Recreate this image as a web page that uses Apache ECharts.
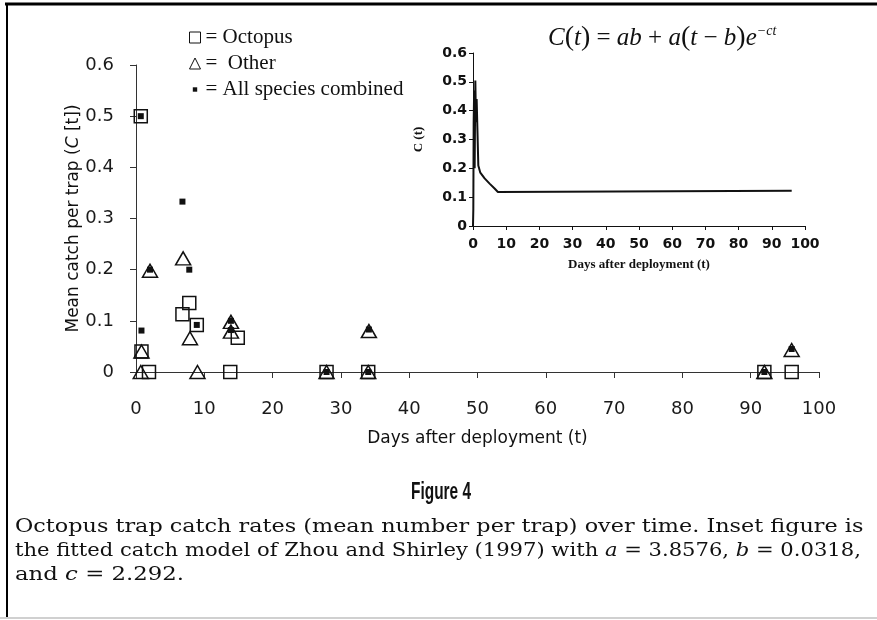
<!DOCTYPE html>
<html>
<head>
<meta charset="utf-8">
<title>Figure 4</title>
<script src="https://cdn.jsdelivr.net/npm/echarts@6/dist/echarts.min.js"></script>
<style>
  html, body { margin: 0; padding: 0; background: #fff; }
  #chart { width: 877px; height: 620px; }
</style>
</head>
<body>
<div id="chart"></div>
<script>
// [days after deployment, mean catch per trap]
var octopus = [[0.7, 0.5], [0.8, 0.04], [1.9, 0], [6.8, 0.113], [7.8, 0.135], [8.9, 0.092],
  [13.8, 0], [14.9, 0.067], [27.9, 0], [34, 0], [92, 0], [96, 0]];
var other = [[0.8, 0.04], [0.7, 0], [2.05, 0.198], [6.9, 0.222], [7.9, 0.066], [9.0, 0],
  [13.9, 0.098], [13.9, 0.079], [27.9, 0], [34, 0], [34.1, 0.08], [92, 0], [96, 0.043]];
var allSpecies = [[0.7, 0.5], [0.8, 0.081], [2.05, 0.2], [6.8, 0.333], [7.8, 0.2], [8.9, 0.092],
  [13.9, 0.1], [13.9, 0.082], [27.9, 0], [34, 0], [34.1, 0.083], [92, 0], [96, 0.045]];

// inset: fitted curve
var fitT = [0, 0.1, 0.2, 0.35, 0.5, 0.7, 0.9, 1.1, 1.6, 2.2, 3.5, 5, 6.5, 7.5, 8, 96];
var fitC = [0, 0.06, 0.36, 0.47, 0.2, 0.505, 0.36, 0.44, 0.21, 0.185, 0.165, 0.147, 0.13, 0.118, 0.122, 0.122];

var sans = '"DejaVu Sans", Verdana, sans-serif';
var serif = '"Liberation Serif", "Times New Roman", serif';
var capSerif = '"DejaVu Serif", serif';

var chart = echarts.init(document.getElementById('chart'));

chart.setOption({
  backgroundColor: '#fff',
  animation: false,
  legend: {
    orient: 'vertical',
    left: 184,
    top: 22,
    itemWidth: 11,
    itemHeight: 11,
    itemGap: 5,
    selectedMode: false,
    textStyle: { fontFamily: serif, fontSize: 21, color: '#111' },
    formatter: function (name) {
      return name === 'Other' ? '=  Other' : '= ' + name;
    },
    data: [
      { name: 'Octopus', icon: 'rect', itemStyle: { color: '#fff', borderColor: '#111', borderWidth: 1 } },
      { name: 'Other', icon: 'triangle', itemStyle: { color: '#fff', borderColor: '#111', borderWidth: 1 } },
      { name: 'All species combined', icon: 'path://M0,0M10,10M3,3h4v4h-4z', itemStyle: { color: '#111' } }
    ]
  },
  grid: [
    { left: 136, right: 58, top: 65, bottom: 248 },
    { left: 473, right: 72, top: 53, bottom: 394 }
  ],
  xAxis: [
    {
      gridIndex: 0, type: 'value', min: 0, max: 100, interval: 10,
      name: 'Days after deployment (t)', nameLocation: 'middle', nameGap: 58, nameMoveOverlap: false,
      nameTextStyle: { fontFamily: sans, fontSize: 17, color: '#111' },
      axisLine: { lineStyle: { color: '#333', width: 1 } },
      axisTick: { length: 6, lineStyle: { color: '#333' } },
      axisLabel: { margin: 28, fontFamily: sans, fontSize: 18, color: '#1a1a1a' },
      splitLine: { show: false }
    },
    {
      gridIndex: 1, type: 'value', min: 0, max: 100, interval: 10,
      name: 'Days after deployment (t)', nameLocation: 'middle', nameGap: 32, nameMoveOverlap: false,
      nameTextStyle: { fontFamily: serif, fontWeight: 'bold', fontSize: 13, color: '#111' },
      axisLine: { lineStyle: { color: '#111', width: 1 } },
      axisTick: { length: 4, lineStyle: { color: '#111' } },
      axisLabel: { margin: 11, fontFamily: sans, fontWeight: 'bold', fontSize: 14, color: '#111' },
      splitLine: { show: false }
    }
  ],
  yAxis: [
    {
      gridIndex: 0, type: 'value', min: 0, max: 0.6, interval: 0.1,
      name: 'Mean catch per trap ({i|C} [t])', nameLocation: 'middle', nameGap: 54, nameMoveOverlap: false,
      nameTextStyle: {
        fontFamily: sans, fontSize: 17, color: '#111',
        rich: { i: { fontFamily: sans, fontSize: 17, fontStyle: 'italic', color: '#111' } }
      },
      axisLine: { show: true, lineStyle: { color: '#333', width: 1 } },
      axisTick: { show: true, length: 6, lineStyle: { color: '#333' } },
      axisLabel: { margin: 22, fontFamily: sans, fontSize: 18, color: '#1a1a1a' },
      splitLine: { show: false }
    },
    {
      gridIndex: 1, type: 'value', min: 0, max: 0.6, interval: 0.1,
      name: 'C (t)', nameLocation: 'middle', nameGap: 48, nameMoveOverlap: false,
      nameTextStyle: { fontFamily: serif, fontWeight: 'bold', fontSize: 13, color: '#111' },
      axisLine: { show: true, lineStyle: { color: '#111', width: 1 } },
      axisTick: { show: true, length: 4, lineStyle: { color: '#111' } },
      axisLabel: { margin: 6, fontFamily: sans, fontWeight: 'bold', fontSize: 14, color: '#111' },
      splitLine: { show: false }
    }
  ],
  series: [
    {
      name: 'Octopus', type: 'scatter', xAxisIndex: 0, yAxisIndex: 0,
      symbol: 'rect', symbolSize: 13,
      itemStyle: { color: 'rgba(255,255,255,0)', borderColor: '#111', borderWidth: 1.5, opacity: 1 },
      data: octopus
    },
    {
      name: 'Other', type: 'scatter', xAxisIndex: 0, yAxisIndex: 0,
      symbol: 'triangle', symbolSize: [15, 13],
      itemStyle: { color: 'rgba(255,255,255,0)', borderColor: '#111', borderWidth: 1.5, opacity: 1 },
      data: other
    },
    {
      name: 'All species combined', type: 'scatter', xAxisIndex: 0, yAxisIndex: 0,
      symbol: 'rect', symbolSize: 6,
      itemStyle: { color: '#111', opacity: 1 },
      data: allSpecies
    },
    {
      name: 'fit', type: 'line', xAxisIndex: 1, yAxisIndex: 1,
      showSymbol: false, symbol: 'none',
      lineStyle: { color: '#111', width: 2 },
      data: fitT.map(function (t, i) { return [t, fitC[i]]; })
    }
  ],
  graphic: [
    // frame
    { type: 'line', shape: { x1: 5, y1: 4, x2: 877, y2: 4 }, style: { stroke: '#000', lineWidth: 3 } },
    { type: 'line', shape: { x1: 7, y1: 3, x2: 7, y2: 618 }, style: { stroke: '#000', lineWidth: 2 } },
    { type: 'line', shape: { x1: 0, y1: 618, x2: 877, y2: 618 }, style: { stroke: '#d0d0d0', lineWidth: 2 } },
    // formula
    {
      type: 'text', x: 548, y: 38,
      style: {
        text: '{i|C}{p|(}{i|t}{p|)}{o| = }{i|ab}{o| + }{i|a}{p|(}{i|t}{o| \u2212 }{i|b}{p|)}{i|e}{s|\u2212ct}',
        verticalAlign: 'middle',
        rich: {
          i: { fontFamily: serif, fontStyle: 'italic', fontSize: 25, fill: '#111' },
          p: { fontFamily: serif, fontSize: 28, fill: '#111' },
          o: { fontFamily: serif, fontSize: 25, fill: '#111' },
          s: { fontFamily: serif, fontStyle: 'italic', fontSize: 14, fill: '#111', verticalAlign: 'top' }
        }
      }
    },
    // caption
    {
      type: 'text', x: 441, y: 493, scaleX: 0.67,
      style: {
        text: 'Figure 4', align: 'center', verticalAlign: 'middle',
        font: 'bold 23px "Liberation Sans", Arial, sans-serif', fill: '#111'
      }
    },
    {
      type: 'text', x: 15, y: 527, scaleX: 1.175,
      style: {
        text: 'Octopus trap catch rates (mean number per trap) over time. Inset figure is',
        verticalAlign: 'middle', font: '19px ' + capSerif, fill: '#111'
      }
    },
    {
      type: 'text', x: 15, y: 551, scaleX: 1.11,
      style: {
        text: 'the fitted catch model of Zhou and Shirley (1997) with {i|a} = 3.8576, {i|b} = 0.0318,',
        verticalAlign: 'middle', font: '19px ' + capSerif, fill: '#111',
        rich: { i: { fontFamily: capSerif, fontStyle: 'italic', fontSize: 19, fill: '#111' } }
      }
    },
    {
      type: 'text', x: 15, y: 575, scaleX: 1.2,
      style: {
        text: 'and {i|c} = 2.292.',
        verticalAlign: 'middle', font: '19px ' + capSerif, fill: '#111',
        rich: { i: { fontFamily: capSerif, fontStyle: 'italic', fontSize: 19, fill: '#111' } }
      }
    }
  ]
});
</script>
</body>
</html>
